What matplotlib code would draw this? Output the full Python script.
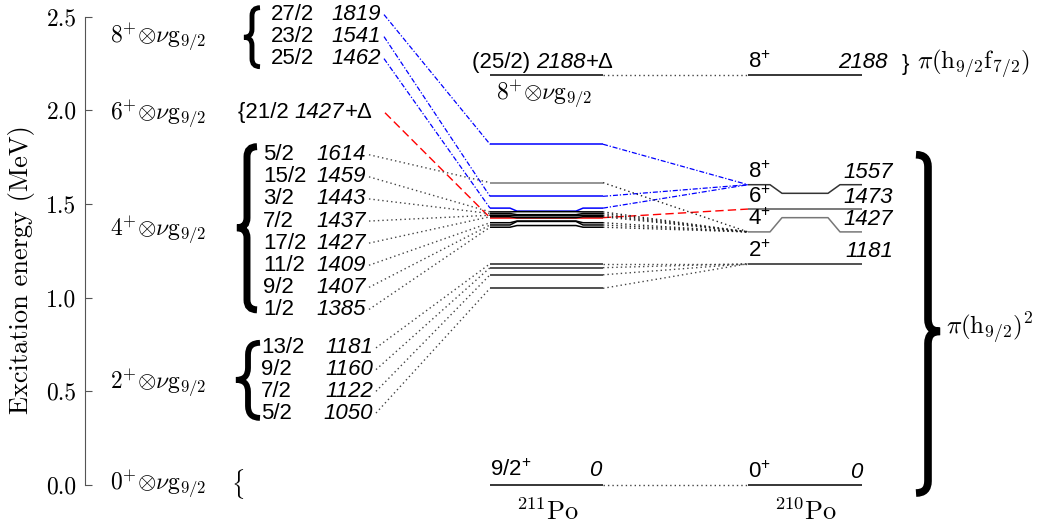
import numpy as np
import matplotlib
matplotlib.use('Agg')
import matplotlib.pyplot as plt
from matplotlib.path import Path
from matplotlib.patches import PathPatch
from matplotlib.ticker import FormatStrFormatter

plt.rcParams['font.family'] = 'Liberation Sans'
plt.rcParams['mathtext.fontset'] = 'cm'
# fontset "custom" = sans labels (used per text through math_fontfamily)
plt.rcParams['mathtext.rm'] = 'Liberation Sans'
plt.rcParams['mathtext.it'] = 'Liberation Sans:italic'
plt.rcParams['mathtext.sf'] = 'Liberation Sans'
plt.rcParams['axes.formatter.use_mathtext'] = True

# --- donnees : multiplets de 211Po (spin, energie en keV)
spins_8 = ['27/2', '23/2', '25/2']
energies_8 = [1819, 1541, 1462]
spins_6 = ['21/2']
energies_6 = [1427]
spins_4 = ['5/2', '15/2', '3/2', '7/2', '17/2', '11/2', '9/2', '1/2']
energies_4 = [1614, 1459, 1443, 1437, 1427, 1409, 1407, 1385]
spins_2 = ['13/2', '9/2', '7/2', '5/2']
energies_2 = [1181, 1160, 1122, 1050]
ground_211 = 0
high_211 = 2188

# niveaux de 210Po
core_spins = ['0', '2', '4', '6', '8']
core_energies = [0, 1181, 1427, 1473, 1557]
high_210 = 2188

yticks = [0.0, 0.5, 1.0, 1.5, 2.0, 2.5]

# positions d'affichage des extremites (niveaux trop proches -> decales)
ends_4 = [1.614, 1.458, 1.449, 1.440, 1.432, 1.400, 1.388, 1.376]
end_1462 = 1.478
core_ends = [0.0, 1.181, 1.351, 1.473, 1.603]

MID = (490, 603)
RIGHT = (748, 862)
SANS = 16
SERIF = 17

fig = plt.figure(figsize=(10.4, 5.29), dpi=100)
ax = fig.add_axes([0, 0, 1, 1])
ax.set_xlim(0, 1040)
ax.set_ylim(-0.235, 2.589)
k = 529 / (2.589 + 0.235)  # pixels par MeV

for s in ['top', 'right', 'bottom']:
    ax.spines[s].set_visible(False)
ax.spines['left'].set_position(('data', 85))
ax.spines['left'].set_bounds(0, 2.5)
ax.spines['left'].set_color('#555555')
ax.set_xticks([])
ax.set_yticks(yticks)
ax.yaxis.set_major_formatter(FormatStrFormatter('%.1f'))
ax.tick_params(axis='y', direction='in', length=5, color='#555555', pad=6,
               labelsize=17, labelfontfamily='cmr10')
ax.set_ylabel('Excitation energy (MeV)', fontfamily='cmr10', fontsize=19)
ax.yaxis.set_label_coords(35 / 1040, 0.49)


def level(x0, x1, e, e_end, color, lw=1.1, a=20, b=27):
    if abs(e - e_end) < 1e-6:
        ax.plot([x0, x1], [e, e], color=color, lw=lw, solid_capstyle='butt')
    else:
        ax.plot([x0, x0 + a, x0 + b, x1 - b, x1 - a, x1],
                [e_end, e_end, e, e, e_end, e_end], color=color, lw=lw,
                solid_capstyle='butt')


def link(p0, p1, kind='dot', color='#444444'):
    if kind == 'dot':
        ax.plot(*zip(p0, p1), color=color, lw=1.0, ls=(0, (1, 2.2)))
    elif kind == 'dashdot':
        ax.plot(*zip(p0, p1), color='blue', lw=0.9, ls=(0, (4, 1.5, 1, 1.5)))
    else:
        ax.plot(*zip(p0, p1), color='red', lw=1.0, ls=(0, (6, 3)))


def brace(x, y0, y1, ym, h, lw, direction=1):
    # direction=1 -> '{'   direction=-1 -> '}'
    r = h / k
    d = h * direction
    verts = [(x + d, y1), (x, y1), (x, y1 - r), (x, ym + r),
             (x, ym), (x - d, ym), (x, ym), (x, ym - r),
             (x, y0 + r), (x, y0), (x + d, y0)]
    codes = [Path.MOVETO, Path.CURVE3, Path.CURVE3, Path.LINETO,
             Path.CURVE3, Path.CURVE3, Path.CURVE3, Path.CURVE3,
             Path.LINETO, Path.CURVE3, Path.CURVE3]
    ax.add_patch(PathPatch(Path(verts, codes), fill=False, lw=lw,
                           color='black', capstyle='butt', clip_on=False))


def sans(x, y, s, **kw):
    kw.setdefault('fontsize', SANS)
    return ax.text(x, y, s, math_fontfamily='custom', **kw)


def chain(x, y, pieces, va='center'):
    # morceaux de texte places bout a bout (droit / italique)
    t = sans(x, y, pieces[0][0], style=pieces[0][1], ha='left', va=va)
    for txt, st in pieces[1:]:
        t = ax.annotate(txt, xy=(1, 0), xycoords=t, ha='left', va='bottom',
                        fontsize=SANS, style=st, math_fontfamily='custom')
    return t


# --- colonne gauche : etiquettes des multiplets
core_label_y = [0.005, 0.545, 1.36, 1.98, 2.39]
for c, yl in zip(core_spins, core_label_y):
    ax.text(110, yl, r'$%s^{+}{\otimes}\nu\mathrm{g}_{9/2}$' % c,
            fontsize=SERIF, ha='left', va='center')
ax.text(231, 0.005, r'$\{$', fontsize=SERIF, ha='left', va='center')

# 8+ x g9/2
lab8 = [2.511 - 0.1175 * i for i in range(len(spins_8))]
brace(252, 2.233, 2.548, 2.39, 8, 3.5)
for i, (sp, en) in enumerate(zip(spins_8, energies_8)):
    sans(271, lab8[i], sp, ha='left', va='center')
    sans(381, lab8[i], str(en), ha='right', va='center', style='italic')
    e_end = end_1462 if en == 1462 else en / 1000
    link((384, lab8[i]), (MID[0], e_end), 'dashdot')
    level(MID[0], MID[1], en / 1000, e_end, 'blue')
    link((MID[1], e_end), (RIGHT[0], core_ends[4]), 'dashdot')

# 6+ x g9/2
chain(238, 1.987, [('{' + spins_6[0] + ' ', 'normal'),
                   (str(energies_6[0]), 'italic'), ('+Δ', 'normal')])
link((385, 1.987), (MID[0], energies_6[0] / 1000), 'dash')
level(MID[0], MID[1], energies_6[0] / 1000, energies_6[0] / 1000, 'red')
link((MID[1], energies_6[0] / 1000), (RIGHT[0], core_ends[3]), 'dash')

# 4+ x g9/2
lab4 = [1.763 - 0.118 * i for i in range(len(spins_4))]
brace(247, 0.935, 1.806, 1.373, 10, 5)
for i, (sp, en) in enumerate(zip(spins_4, energies_4)):
    sans(263, lab4[i], sp, ha='left', va='center')
    sans(366, lab4[i], str(en), ha='right', va='center', style='italic')
    col = '#777777' if en == 1614 else 'black'
    link((369, lab4[i]), (MID[0], ends_4[i]))
    level(MID[0], MID[1], en / 1000, ends_4[i], col)
    link((MID[1], ends_4[i]), (RIGHT[0], core_ends[2]), color='#222222')

# 2+ x g9/2
lab2 = [0.732 - 0.116 * i for i in range(len(spins_2))]
brace(248, 0.358, 0.759, 0.561, 12, 4.2)
for i, (sp, en) in enumerate(zip(spins_2, energies_2)):
    sans(261, lab2[i], sp, ha='left', va='center')
    sans(373, lab2[i], str(en), ha='right', va='center', style='italic')
    link((376, lab2[i]), (MID[0], en / 1000))
    level(MID[0], MID[1], en / 1000, en / 1000, '#222222')
    link((MID[1], en / 1000), (RIGHT[0], core_ends[1]))

# etats fondamentaux
level(MID[0], MID[1], ground_211, ground_211, 'black')
sans(MID[0], 0.02, r'9/2$^{+}$', ha='left', va='bottom')
sans(MID[1] - 2, 0.02, '0', ha='right', va='bottom', style='italic')
link((MID[1], ground_211), (RIGHT[0], core_energies[0]))

# 2188 keV
level(MID[0], MID[1], high_211 / 1000, high_211 / 1000, 'black')
chain(472, high_211 / 1000 + 0.012, [('(25/2) ', 'normal'),
                                     (str(high_211), 'italic'), ('+Δ', 'normal')],
      va='bottom')
ax.text(496, 2.172, r'$8^{+}{\otimes}\nu\mathrm{g}_{9/2}$', fontsize=SERIF,
        ha='left', va='top')
link((MID[1], high_211 / 1000), (RIGHT[0], high_210 / 1000))
level(RIGHT[0], RIGHT[1], high_210 / 1000, high_210 / 1000, 'black')
sans(RIGHT[0], high_210 / 1000 + 0.012, r'8$^{+}$', ha='left', va='bottom')
sans(888, high_210 / 1000 + 0.012, str(high_210), ha='right', va='bottom',
     style='italic')
sans(902, 2.244, '}', ha='left', va='center')
ax.text(917, 2.244, r'$\pi(\mathrm{h}_{9/2}\mathrm{f}_{7/2})$', fontsize=18,
        ha='left', va='center')

# colonne 210Po
core_cols = ['black', '#222222', '#777777', '#555555', '#333333']
for c, en, e_end, col in zip(core_spins, core_energies, core_ends, core_cols):
    level(RIGHT[0], RIGHT[1], en / 1000, e_end, col, a=22, b=34)
    sans(RIGHT[0], e_end + 0.008, r'%s$^{+}$' % c, ha='left', va='bottom')
    xr = RIGHT[1] if en == 0 else 893
    sans(xr, e_end + 0.008, str(en), ha='right', va='bottom', style='italic')

brace(928, -0.043, 1.763, 0.82, 12, 5.5, direction=-1)
ax.text(946, 0.838, r'$\pi(\mathrm{h}_{9/2})^{2}$', fontsize=18,
        ha='left', va='center')

ax.text(547, -0.145, r'$^{211}\mathrm{Po}$', fontsize=19, ha='center', va='center')
ax.text(805, -0.145, r'$^{210}\mathrm{Po}$', fontsize=19, ha='center', va='center')

fig.savefig('out.png', dpi=100)
